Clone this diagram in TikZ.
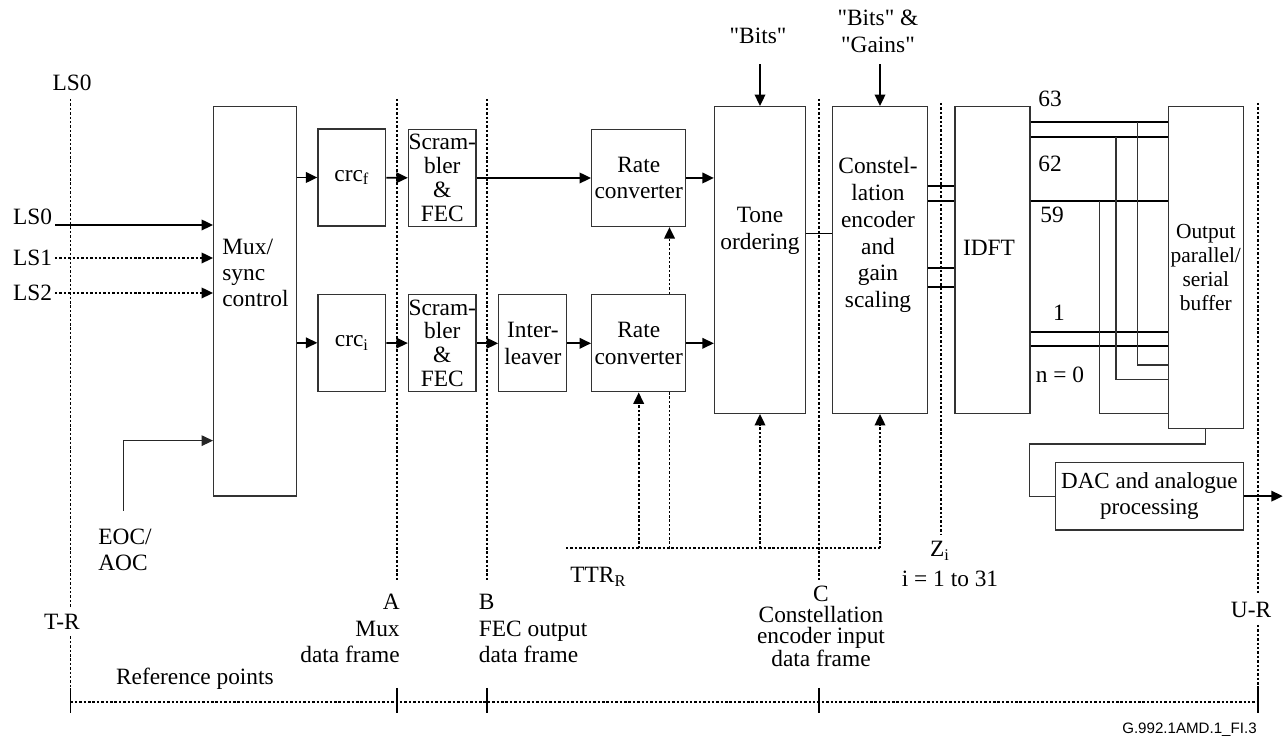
\documentclass[tikz,border=0pt]{standalone}
\usepackage{fontspec}
\setmainfont{Liberation Serif}[Ligatures=TeXOff]
\newfontfamily\tagfont{Liberation Sans}
\usepackage{tikz}
\usetikzlibrary{arrows.meta,positioning}

\begin{document}
\begin{tikzpicture}[
    font=\fontsize{13.3}{15}\selectfont,
    node distance=1.34cm and 0.43cm,
    blk/.style={draw=black!80, line width=0.75pt, inner sep=0pt, align=center},
    txt/.style={inner sep=0pt, align=center},
    arr/.style={-{Triangle[length=6.5pt,width=6pt]}, line width=1pt},
    dots/.style={line width=1pt, dash pattern=on 1.4pt off 1.1pt},
    wire/.style={line width=1pt},
    thinw/.style={line width=0.65pt, draw=black!80}
]
    \useasboundingbox (0,0) rectangle (25.72,14.76);

    % reference point lines
    \draw[dots] (1.41,12.78) -- (1.41,2.6) (1.41,2.03) -- (1.41,0.726);
    \draw[dots] (25.16,12.70) -- (25.16,2.9) (25.16,2.26) -- (25.16,0.726);
    \foreach \x/\ytop/\ybot in {7.94/12.78/3.13, 9.74/12.78/3.13, 16.38/12.78/3.16, 18.82/12.70/4.06}
        \draw[dots] (\x,\ytop) -- (\x,\ybot);
    \draw[dots] (1.41,0.726) -- (25.16,0.726);
    \foreach \x in {1.41,7.94,9.74,16.38,25.16}
        \draw[line width=1pt] (\x,1.0) -- (\x,0.5);

    % blocks
    \node[blk, minimum width=1.652cm, minimum height=7.786cm] (mux) at (5.10,8.733) {};
    \node[txt, align=left, anchor=west] (muxtxt) at (4.44,9.3) {Mux/\\sync\\control};
    \node[blk, minimum width=1.354cm, minimum height=1.94cm] (crcf) at (7.037,11.21) {crc\textsubscript{f}};
    \node[blk, minimum width=1.354cm, minimum height=1.94cm, below=of crcf] (crci) {crc\textsubscript{i}};
    \node[blk, minimum width=1.35cm, minimum height=1.94cm, font=\fontsize{13.3}{13.6}\selectfont] (scrf) at (8.845,11.20) {Scram-\\bler\\\&\\FEC};
    \node[blk, minimum width=1.35cm, minimum height=1.94cm, font=\fontsize{13.3}{13.6}\selectfont, below=of scrf] (scri) {Scram-\\bler\\\&\\FEC};
    \node[blk, minimum width=1.36cm, minimum height=1.94cm, right=of scri] (intl) {Inter-\\leaver};
    \node[blk, minimum width=1.88cm, minimum height=1.94cm] (ratef) at (12.774,11.20) {Rate\\converter};
    \node[blk, minimum width=1.88cm, minimum height=1.94cm, below=of ratef] (ratei) {Rate\\converter};
    \node[blk, minimum width=1.82cm, minimum height=6.132cm] (tone) at (15.20,9.56) {};
    \node[txt] (tonetxt) at (15.20,10.14) {Tone\\ordering};
    \node[blk, minimum width=1.892cm, minimum height=6.132cm] (cons) at (17.60,9.56) {};
    \node[txt, font=\fontsize{13.3}{15.3}\selectfont] (constxt) at (17.56,10.06) {Constel-\\lation\\encoder\\and\\gain\\scaling};
    \node[blk, minimum width=1.5cm, minimum height=6.132cm] (idft) at (19.85,9.56) {};
    \node[txt] (idfttxt) at (19.78,9.80) {IDFT};
    \node[blk, minimum width=1.5cm, minimum height=6.432cm, font=\fontsize{12.2}{13.6}\selectfont] (buf) at (24.116,9.41) {Output\\parallel/\\serial\\buffer};
    \node[blk, minimum width=3.766cm, minimum height=1.354cm, font=\fontsize{13.1}{14.5}\selectfont] (dac) at (22.989,4.837) {DAC and analogue\\processing};

    % inputs
    \node[anchor=base east, inner sep=1.5pt] (ls0) at (1.10,10.26) {LS0};
    \node[anchor=east, inner sep=1.5pt] (ls1) at (1.10,9.60) {LS1};
    \node[anchor=east, inner sep=1.5pt] (ls2) at (1.10,8.90) {LS2};
    \draw[arr] (ls0.base east) -- (ls0.base east -| mux.west);
    \draw[arr, dots] (ls1.east) -- (ls1.east -| mux.west);
    \draw[arr, dots] (ls2.east) -- (ls2.east -| mux.west);
    \node[txt, align=left, anchor=west] (eoc) at (1.96,3.76) {EOC/\\AOC};
    \coordinate (eocin) at (2.466,4.546);
    \draw[arr, line width=0.7pt, black!85] (eocin) |- ([yshift=1.12cm]mux.south west);

    % data path
    \draw[arr] (crcf.west -| mux.east) -- (crcf.west);
    \draw[arr] (crci.west -| mux.east) -- (crci.west);
    \draw[arr] (crcf) -- (scrf);
    \draw[arr] (crci) -- (scri);
    \draw[arr] (scrf) -- (ratef);
    \draw[arr] (scri) -- (intl);
    \draw[arr] (intl) -- (ratei);
    \draw[arr] (ratef.east) -- (ratef.east -| tone.west);
    \draw[arr] (ratei.east) -- (ratei.east -| tone.west);
    \coordinate (tc) at (0,10.09);
    \draw[wire] (tone.east |- tc) -- (cons.west |- tc);
    \foreach \y in {11.046,10.74,9.406,9.026}
        \draw[wire] (cons.east |- 0,\y) -- (idft.west |- 0,\y);

    % top inputs
    \node[txt] (bits) at (15.16,14.04) {"Bits"};
    \node[txt, font=\fontsize{13.3}{15.3}\selectfont] (bitsgains) at (17.56,14.13) {"Bits" \&\\"Gains"};
    \draw[arr] (tone.north) ++(0,0.834) -- (tone.north);
    \draw[arr] (cons.north) ++(0,0.834) -- (cons.north);

    % TTR control
    \coordinate (ttr) at (11.32,3.794);
    \coordinate (cx) at (13.39,0);
    \draw[dots] (ttr) -- (cons.south |- ttr);
    \draw[arr, dots] (ratei.south |- ttr) -- (ratei.south);
    \draw[dots] (ttr -| cx) -- (ratei.south -| cx);
    \draw[arr, dots] (ratei.north -| cx) -- (ratef.south -| cx);
    \draw[arr, dots] (tone.south |- ttr) -- (tone.south);
    \draw[arr, dots] (cons.south |- ttr) -- (cons.south);
    \node[anchor=base west, inner sep=0pt] (ttrlbl) at (11.4,3.1) {TTR\textsubscript{R}};

    % IDFT outputs
    \foreach \y in {12.314,12.026,10.74,8.114,7.84}
        \draw[wire] (idft.east |- 0,\y) -- (buf.west |- 0,\y);
    \draw[thinw] (22.746,12.314) |- (buf.west |- 0,7.46);
    \draw[thinw] (22.32,12.026) |- (buf.west |- 0,7.174);
    \draw[thinw] (21.986,10.74) |- (buf.west |- 0,6.494);
    \node[txt] (n63) at (21.0,12.79) {63};
    \node[txt] (n62) at (21.0,11.49) {62};
    \node[txt] (n59) at (21.04,10.46) {59};
    \node[txt] (n1) at (21.18,8.5) {1};
    \node[txt] (n0) at (21.2,7.26) {n = 0};

    % output
    \draw[thinw] (buf.south) -- ++(0,-0.3) -| (20.588,4.837) -- (dac.west);
    \draw[arr] (dac.east) -- ++(0.77,0);

    % reference point labels
    \node[txt] (lsref) at (1.44,13.10) {LS0};
    \node[txt] (tr) at (1.24,2.33) {T-R};
    \node[txt] (ur) at (25.02,2.56) {U-R};
    \node[txt, align=right, anchor=east] (ptA) at (8.0,2.19) {A\\Mux\\data frame};
    \node[txt, align=left, anchor=west] (ptB) at (9.57,2.19) {B\\FEC output\\data frame};
    \node[txt, font=\fontsize{13.3}{12}\selectfont] (ptC) at (16.42,2.235) {C\\Constellation\\encoder input\\data frame};
    \node[anchor=base, inner sep=0pt] (ptZ) at (18.8,3.63) {Z\textsubscript{i}};
    \node[anchor=base, inner sep=0pt] (ptZi) at (19.0,3.02) {i = 1 to 31};
    \node[anchor=west, inner sep=0pt] (refpts) at (2.314,1.194) {Reference points};
    \node[anchor=east, inner sep=0pt, font=\tagfont\fontsize{8.6}{10}\selectfont] (figid) at (25.14,0.16) {G.992.1AMD.1\_FI.3};
\end{tikzpicture}
\end{document}
